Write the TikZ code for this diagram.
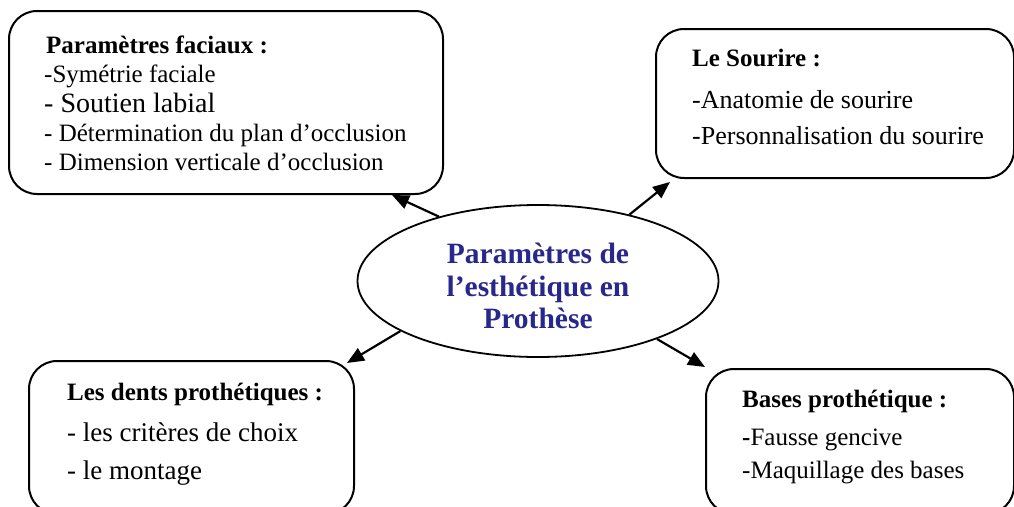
\documentclass[tikz,border=0pt]{standalone}
\usepackage{fontspec}
\setmainfont{Liberation Serif}
\usetikzlibrary{shapes.geometric,arrows.meta}
\definecolor{titleblue}{RGB}{40,40,140}
\begin{document}
\begin{tikzpicture}[x=1pt,y=-1pt,
  box/.style={draw,line width=2pt,rounded corners=28pt,anchor=north west,inner sep=0pt},
  txt/.style={anchor=base west,inner sep=0pt,font=\fontsize{25}{30}\selectfont},
  ttl/.style={anchor=base west,inner sep=0pt,font=\fontsize{25}{30}\selectfont\bfseries},
  ctrtxt/.style={anchor=base,inner sep=0pt,text=titleblue,font=\fontsize{29.5}{33}\selectfont\bfseries},
  arr/.style={line width=2.2pt,-{Triangle[length=17pt,width=14pt]}}]
\clip (0,0) rectangle (1014,506);
\fill[white] (0,0) rectangle (1014,506);
% boxes
\node[box,minimum width=434pt,minimum height=183pt] (fac) at (8,10) {};
\node[box,minimum width=358pt,minimum height=149pt] (sou) at (655,28) {};
\node[box,minimum width=325pt,minimum height=153pt] (den) at (28,360) {};
\node[box,minimum width=308pt,minimum height=145pt] (bas) at (705,368) {};
% centre
\node[ellipse,draw,line width=1.8pt,minimum width=361pt,minimum height=152pt,inner sep=0pt] (ctr) at (538,281) {};
\node[ctrtxt] (c1) at (538,263) {Paramètres de};
\node[ctrtxt] (c2) at (538,296) {l’esthétique en};
\node[ctrtxt] (c3) at (538,328) {Prothèse};
% box 1 text
\node[ttl] (f0) at (46,53) {Paramètres faciaux :};
\node[txt] (f1) at (44,82) {-Symétrie faciale};
\node[txt,font=\fontsize{28}{32}\selectfont] (f2) at (44,112) {- Soutien labial};
\node[txt] (f3) at (44,141) {- Détermination du plan d’occlusion};
\node[txt] (f4) at (44,170) {- Dimension verticale d’occlusion};
% box 2 text
\node[ttl] (s0) at (692,66) {Le Sourire :};
\node[txt,font=\fontsize{26}{30}\selectfont] (s1) at (692,108) {-Anatomie de sourire};
\node[txt,font=\fontsize{26}{30}\selectfont] (s2) at (692,144) {-Personnalisation du sourire};
% box 3 text
\node[ttl] (d0) at (67,400) {Les dents prothétiques :};
\node[txt,font=\fontsize{27}{30}\selectfont] (d1) at (67,441) {- les critères de choix};
\node[txt,font=\fontsize{27}{30}\selectfont] (d2) at (67,479) {- le montage};
% box 4 text
\node[ttl] (b0) at (742,407) {Bases prothétique :};
\node[txt] (b1) at (742,445) {\textbf{-}Fausse gencive};
\node[txt] (b2) at (742,478) {-Maquillage des bases};
% arrows
\coordinate (tfac) at (392,195);
\coordinate (tsou) at (670,182);
\coordinate (tden) at (347,363);
\coordinate (tbas) at (705,367);
\draw[arr] (ctr.147.8) -- (tfac);
\draw[arr] (ctr.36.6) -- (tsou);
\draw[arr] (ctr.200.7) -- (tden);
\draw[arr] (ctr.334.3) -- (tbas);
\end{tikzpicture}
\end{document}
